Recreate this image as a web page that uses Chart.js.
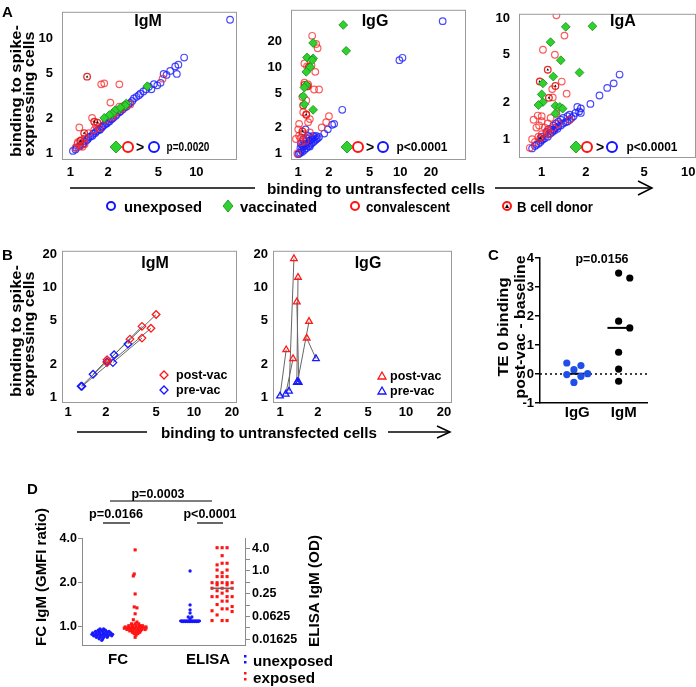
<!DOCTYPE html>
<html>
<head>
<meta charset="utf-8">
<script src="https://cdn.jsdelivr.net/npm/chart.js@4.4.1/dist/chart.umd.min.js"></script>
<style>
  body { margin: 0; background: #fff; }
  #page { position: relative; width: 696px; height: 687px; overflow: hidden; background: #fff;
          font-family: "Liberation Sans", Arial, Helvetica, sans-serif; }
  .box { position: absolute; }
  #over { position: absolute; left: 0; top: 0; pointer-events: none; }
  #over text { font-family: "Liberation Sans", Arial, Helvetica, sans-serif; font-weight: bold; fill: #000; }
</style>
</head>
<body>
<div id="page">
  <div class="box" style="left:30px;top:-5px;width:219px;height:187px"><canvas id="a1"></canvas></div>
  <div class="box" style="left:262px;top:-7px;width:216px;height:189px"><canvas id="a2"></canvas></div>
  <div class="box" style="left:488px;top:-3px;width:220px;height:185px"><canvas id="a3"></canvas></div>
  <div class="box" style="left:30px;top:238px;width:219px;height:190px"><canvas id="b1"></canvas></div>
  <div class="box" style="left:245px;top:238px;width:219px;height:190px"><canvas id="b2"></canvas></div>
  <div class="box" style="left:488px;top:248px;width:171px;height:182px"><canvas id="c1"></canvas></div>
  <div class="box" style="left:30px;top:528px;width:300px;height:147px"><canvas id="d1"></canvas></div>

  <svg id="over" width="696" height="687">
    <!-- panel A -->
    <text x="2" y="11" font-size="15" dominant-baseline="central">A</text>
    <text x="148" y="20" font-size="16" text-anchor="middle" dominant-baseline="central">IgM</text>
    <text x="375" y="20" font-size="16" text-anchor="middle" dominant-baseline="central">IgG</text>
    <text x="623" y="20" font-size="16" text-anchor="middle" dominant-baseline="central">IgA</text>
    <text transform="translate(15,91) rotate(-90)" font-size="15" text-anchor="middle" dominant-baseline="central" textLength="132" lengthAdjust="spacingAndGlyphs">binding to spike-</text>
    <text transform="translate(28,94) rotate(-90)" font-size="15" text-anchor="middle" dominant-baseline="central" textLength="125" lengthAdjust="spacingAndGlyphs">expressing cells</text>

    <g stroke="#000" stroke-width="1.5" fill="none">
      <line x1="70" y1="188" x2="255" y2="188"/>
      <line x1="495" y1="188" x2="652" y2="188"/>
      <polyline points="638,181 652,188 638,195"/>
    </g>
    <text x="376" y="188" font-size="15" text-anchor="middle" dominant-baseline="central" textLength="218" lengthAdjust="spacingAndGlyphs">binding to untransfected cells</text>

    <circle cx="111" cy="206" r="4" fill="none" stroke="#1414ff" stroke-width="2"/>
    <text x="124" y="206" font-size="15" dominant-baseline="central" textLength="78" lengthAdjust="spacingAndGlyphs">unexposed</text>
    <polygon points="228,200 233,206 228,212 223,206" fill="#2fd12f" stroke="#178c17" stroke-width="0.8"/>
    <text x="240" y="206" font-size="15" dominant-baseline="central" textLength="77" lengthAdjust="spacingAndGlyphs">vaccinated</text>
    <circle cx="355" cy="206" r="4" fill="none" stroke="#ff1414" stroke-width="2"/>
    <text x="366" y="206" font-size="15" dominant-baseline="central" textLength="84" lengthAdjust="spacingAndGlyphs">convalescent</text>
    <circle cx="507" cy="206" r="4" fill="none" stroke="#ff1414" stroke-width="2"/>
    <polygon points="507,204 509,208 505,208" fill="#000"/>
    <text x="517" y="206" font-size="15" dominant-baseline="central" textLength="76" lengthAdjust="spacingAndGlyphs">B cell donor</text>

    <!-- inner comparison keys -->
    <g id="key1">
      <polygon points="116,141 122,147 116,153 110,147" fill="#2fd12f" stroke="#178c17" stroke-width="0.8"/>
      <circle cx="128" cy="147" r="5" fill="none" stroke="#ff1414" stroke-width="2"/>
      <text x="140" y="147" font-size="14" text-anchor="middle" dominant-baseline="central">&gt;</text>
      <circle cx="154" cy="147" r="5" fill="none" stroke="#1414ff" stroke-width="2"/>
      <text x="188" y="147" font-size="12.5" text-anchor="middle" dominant-baseline="central" textLength="43" lengthAdjust="spacingAndGlyphs">p=0.0020</text>
    </g>
    <g>
      <polygon points="347,141 353,147 347,153 341,147" fill="#2fd12f" stroke="#178c17" stroke-width="0.8"/>
      <circle cx="358" cy="147" r="5" fill="none" stroke="#ff1414" stroke-width="2"/>
      <text x="370" y="147" font-size="14" text-anchor="middle" dominant-baseline="central">&gt;</text>
      <circle cx="383" cy="147" r="5" fill="none" stroke="#1414ff" stroke-width="2"/>
      <text x="422" y="147" font-size="12.5" text-anchor="middle" dominant-baseline="central" textLength="51" lengthAdjust="spacingAndGlyphs">p&lt;0.0001</text>
    </g>
    <g>
      <polygon points="576,141 582,147 576,153 570,147" fill="#2fd12f" stroke="#178c17" stroke-width="0.8"/>
      <circle cx="587" cy="147" r="5" fill="none" stroke="#ff1414" stroke-width="2"/>
      <text x="600" y="147" font-size="14" text-anchor="middle" dominant-baseline="central">&gt;</text>
      <circle cx="612" cy="147" r="5" fill="none" stroke="#1414ff" stroke-width="2"/>
      <text x="652" y="147" font-size="12.5" text-anchor="middle" dominant-baseline="central" textLength="51" lengthAdjust="spacingAndGlyphs">p&lt;0.0001</text>
    </g>

    <!-- panel B -->
    <text x="2" y="254" font-size="15" dominant-baseline="central">B</text>
    <text x="155" y="262" font-size="16" text-anchor="middle" dominant-baseline="central">IgM</text>
    <text x="368" y="262" font-size="16" text-anchor="middle" dominant-baseline="central">IgG</text>
    <text transform="translate(15,331) rotate(-90)" font-size="15" text-anchor="middle" dominant-baseline="central" textLength="132" lengthAdjust="spacingAndGlyphs">binding to spike-</text>
    <text transform="translate(28,334) rotate(-90)" font-size="15" text-anchor="middle" dominant-baseline="central" textLength="125" lengthAdjust="spacingAndGlyphs">expressing cells</text>
    <g stroke="#000" stroke-width="1.5" fill="none">
      <line x1="77" y1="432" x2="147" y2="432"/>
      <line x1="388" y1="432" x2="450" y2="432"/>
      <polyline points="437,426 450,432 437,438"/>
    </g>
    <text x="269" y="432" font-size="15" text-anchor="middle" dominant-baseline="central" textLength="216" lengthAdjust="spacingAndGlyphs">binding to untransfected cells</text>

    <polygon points="164,371 168,375 164,379 160,375" fill="none" stroke="#ff1414" stroke-width="1.3"/>
    <text x="176" y="375" font-size="12.5" dominant-baseline="central">post-vac</text>
    <polygon points="164,386 168,390 164,394 160,390" fill="none" stroke="#1414ff" stroke-width="1.3"/>
    <text x="176" y="390" font-size="12.5" dominant-baseline="central">pre-vac</text>
    <polygon points="382,372 386,379 378,379" fill="none" stroke="#ff1414" stroke-width="1.3"/>
    <text x="390" y="376" font-size="12.5" dominant-baseline="central">post-vac</text>
    <polygon points="382,387 386,394 378,394" fill="none" stroke="#1414ff" stroke-width="1.3"/>
    <text x="390" y="391" font-size="12.5" dominant-baseline="central">pre-vac</text>

    <!-- panel C -->
    <text x="488" y="254" font-size="15" dominant-baseline="central">C</text>
    <text x="602" y="258" font-size="13" text-anchor="middle" dominant-baseline="central" textLength="53" lengthAdjust="spacingAndGlyphs">p=0.0156</text>
    <text transform="translate(502,327) rotate(-90)" font-size="15" text-anchor="middle" dominant-baseline="central" textLength="99" lengthAdjust="spacingAndGlyphs">TE 0 binding</text>
    <text transform="translate(519,327) rotate(-90)" font-size="15" text-anchor="middle" dominant-baseline="central" textLength="143" lengthAdjust="spacingAndGlyphs">post-vac - baseline</text>

    <!-- panel D -->
    <text x="27" y="488" font-size="15" dominant-baseline="central">D</text>
    <text x="158" y="493" font-size="13" text-anchor="middle" dominant-baseline="central" textLength="53" lengthAdjust="spacingAndGlyphs">p=0.0003</text>
    <line x1="110" y1="501" x2="212" y2="501" stroke="#000" stroke-width="1.2"/>
    <text x="116" y="513" font-size="13" text-anchor="middle" dominant-baseline="central" textLength="54" lengthAdjust="spacingAndGlyphs">p=0.0166</text>
    <line x1="103" y1="523" x2="130" y2="523" stroke="#000" stroke-width="1.2"/>
    <text x="210" y="513" font-size="13" text-anchor="middle" dominant-baseline="central" textLength="53" lengthAdjust="spacingAndGlyphs">p&lt;0.0001</text>
    <line x1="197" y1="523" x2="223" y2="523" stroke="#000" stroke-width="1.2"/>
    <text transform="translate(40,577) rotate(-90)" font-size="15" text-anchor="middle" dominant-baseline="central" textLength="138" lengthAdjust="spacingAndGlyphs">FC IgM (GMFI ratio)</text>
    <text transform="translate(313,591) rotate(-90)" font-size="15" text-anchor="middle" dominant-baseline="central" textLength="112" lengthAdjust="spacingAndGlyphs">ELISA IgM (OD)</text>
    <rect x="244" y="655" width="2.5" height="2.5" fill="#1414ff"/>
    <rect x="244" y="661" width="2.5" height="2.5" fill="#1414ff"/>
    <text x="253" y="660" font-size="15" dominant-baseline="central" textLength="80" lengthAdjust="spacingAndGlyphs">unexposed</text>
    <rect x="244" y="672" width="2.5" height="2.5" fill="#ff1414"/>
    <rect x="244" y="678" width="2.5" height="2.5" fill="#ff1414"/>
    <text x="253" y="677" font-size="15" dominant-baseline="central" textLength="62" lengthAdjust="spacingAndGlyphs">exposed</text>
  </svg>
</div>

<script>
// ---------- Panel A: [binding to untransfected, binding to spike] ----------
const aIgM_unexposed = [
  [1.05,1.05],[1.1,1.08],[1.12,1.12],[1.18,1.15],[1.2,1.17],[1.25,1.2],[1.28,1.22],[1.3,1.27],[1.35,1.3],
  [1.38,1.33],[1.4,1.38],[1.45,1.4],[1.5,1.42],[1.52,1.48],[1.58,1.5],[1.6,1.55],[1.65,1.58],[1.7,1.62],
  [1.72,1.6],[1.78,1.68],[1.8,1.72],[1.85,1.75],[1.9,1.8],[1.95,1.82],[2.0,1.88],[2.05,1.9],[2.1,1.98],
  [2.15,2.0],[2.2,2.05],[2.3,2.12],[2.35,2.2],[2.45,2.28],[2.5,2.32],[2.6,2.4],[2.7,2.5],[2.8,2.55],
  [2.9,2.68],[3.0,2.75],[3.1,2.85],[3.2,3.0],[3.35,3.1],[3.5,3.2],[3.6,3.3],[3.8,3.45],[4.0,3.6],
  [4.2,3.8],[4.4,3.6],[4.6,4.0],[4.9,3.9],[5.2,4.1],[5.5,4.9],[5.8,4.8],[6.2,5.2],[7.0,4.9],[6.8,5.7],
  [7.2,5.9],[8.0,6.8],[18.5,14.5]
];
const aIgM_vaccinated = [[4.08,3.83],[2.78,2.71],[2.73,2.6],[2.45,2.42],[2.27,2.37],[2.15,2.2],[2.04,2.15],[1.86,2.03],[2.5,2.5]];
const aIgM_convalescent = [
  [1.76,3.98],[1.86,4.06],[2.45,3.98],[2.08,2.76],[1.49,2.03],[1.18,1.68],[1.14,1.21],[1.25,1.14],[1.1,1.12],
  [1.2,1.15],[1.22,1.3],[1.3,1.35],[1.4,1.5],[1.55,1.6],[1.6,1.75],[1.7,1.65],[1.9,1.96],[2.15,2.07],
  [2.3,2.25],[2.5,2.4],[2.6,2.5],[2.99,2.66],[2.8,2.6],[2.7,2.62],[5.4,4.46],[1.15,1.25],[1.3,1.2],
  [2.2,2.2],[2.45,2.55]
];
const aIgM_donor = [[1.36,4.64],[1.55,1.88],[1.64,1.85],[1.29,1.5],[1.2,1.28]];

const aIgG_unexposed = [
  [2.7,3.2],[2.25,2.2],[2.15,2.15],[1.95,1.9],[1.8,1.7],[1.6,1.55],[1.55,1.5],[1.5,1.45],[1.45,1.4],
  [1.4,1.35],[1.35,1.3],[1.3,1.25],[1.25,1.2],[1.2,1.15],[1.15,1.1],[1.1,1.05],[1.05,1.02],[1.02,1.0],
  [1.0,0.98],[1.08,1.1],[1.12,1.2],[1.18,1.25],[1.22,1.3],[1.28,1.4],[1.3,1.55],[1.35,1.45],[1.4,1.6],
  [1.15,1.3],[1.1,1.25],[1.05,1.15],[1.2,1.5],[1.25,1.6],[1.5,1.6],[1.45,1.55],[1.2,1.4],[1.18,1.9],
  [1.06,1.3],[1.12,1.45],[1.3,1.2],[1.38,1.5],[9.8,12],[10.5,12.8],[26,34]
];
const aIgG_vaccinated = [
  [2.76,30.7],[2.95,15.4],[1.4,19],[1.22,12.9],[1.4,12.6],[1.37,12],[1.31,10],[1.2,8.8],[1.2,6.2],
  [1.15,5.8],[1.12,4.6],[1.15,3.7],[1.4,3.2]
];
const aIgG_convalescent = [
  [1.37,23],[1.5,18.5],[1.15,11],[1.47,8.8],[1.22,10.2],[1.15,6.6],[1.25,6.3],[1.43,5.5],[1.6,5.5],
  [1.1,4.5],[1.2,4.1],[1.12,3.0],[1.2,2.86],[1.25,2.3],[1.02,2.2],[1.0,1.9],[1.02,1.6],[2.0,2.7],
  [1.88,2.3],[1.7,2.0],[0.95,1.47],[1.05,1.5],[1.1,1.7],[0.98,1.0],[1.3,2.5],[1.08,1.35],[1.18,1.4],
  [1.3,1.75],[1.25,6.0],[1.35,10.5],[1.55,16.5]
];
const aIgG_donor = [[1.15,6.2],[1.27,10],[1.12,3.6],[1.2,2.8],[1.1,1.8],[1.22,6.0]];

const aIgA_unexposed = [
  [3.4,3.43],[3.1,2.9],[2.8,2.66],[2.48,2.3],[2.15,1.96],[1.85,1.8],[1.75,1.85],[1.8,1.7],[1.7,1.65],
  [1.85,1.65],[1.65,1.55],[1.6,1.5],[1.55,1.45],[1.5,1.4],[1.45,1.38],[1.4,1.35],[1.35,1.3],[1.3,1.28],
  [1.28,1.22],[1.25,1.25],[1.2,1.2],[1.18,1.15],[1.15,1.12],[1.12,1.1],[1.1,1.05],[1.05,1.02],[1.02,1.0],
  [1.0,0.98],[0.98,0.95],[0.95,0.92],[0.92,0.9],[0.9,0.88],[0.86,0.84],[1.08,1.15],[1.15,1.2],[1.2,1.3],
  [1.25,1.35],[1.3,1.4],[1.35,1.45],[1.4,1.5],[1.12,1.22],[1.5,1.55],[1.55,1.6],[1.0,1.05],[1.22,1.18]
];
const aIgA_vaccinated = [
  [1.46,8.5],[2.22,8.6],[1.15,6.35],[1.35,4.5],[1.81,3.56],[1.2,3.3],[1.02,2.9],[1.0,2.35],[1.02,2.03],
  [0.95,1.92],[1.24,1.89],[1.33,1.85],[1.39,1.79],[1.24,1.63]
];
const aIgA_convalescent = [
  [1.26,10.6],[1.43,7.2],[1.23,5.0],[1.02,5.5],[1.19,2.22],[1.48,2.38],[1.37,3.0],[0.94,1.57],[1.0,1.41],
  [1.26,1.63],[0.86,1.0],[0.83,0.85],[0.9,0.95],[0.96,1.3],[1.05,1.25],[1.1,1.35],[1.15,1.5],[1.0,1.1],
  [1.08,1.15],[0.92,1.25],[1.12,1.1],[1.2,1.25],[1.55,1.45],[0.88,1.45],[1.0,1.55],[1.1,1.2],[0.95,1.05],
  [1.3,1.35],[1.18,2.6]
];
const aIgA_donor = [[1.1,3.76],[0.97,3.0],[1.24,2.76],[1.12,2.2],[0.98,1.02]];

const aTicksIgM = [1, 2, 5, 10];
const aTicksIgG = [1, 2, 5, 10, 20];
const aTicksIgA = [1, 2, 5, 10];

// ---------- Panel B: paired pre / post vaccination ----------
const bIgM_pre  = [[1.27,1.25],[1.29,1.25],[1.58,1.61],[2.32,2.43],[2.27,2.06],[2.99,3.05],[2.04,2.1]];
const bIgM_post = [[5.0,5.67],[4.55,4.24],[2.04,2.19],[3.86,4.42],[3.86,3.45],[3.1,3.38],[2.04,2.06]];
const bIgG_pre  = [[1.0,1.02],[1.11,1.06],[1.18,1.13],[1.36,1.36],[1.41,1.36],[1.38,1.38],[1.93,2.24]];
const bIgG_post = [[1.12,2.7],[1.27,2.24],[1.29,18.4],[1.39,12.4],[1.36,7.4],[1.7,4.9],[1.63,3.45]];
const bTicks = [1, 2, 5, 10, 20];

// ---------- Panel C: TE 0 binding, post-vac minus baseline ----------
const cCategories = ['IgG', 'IgM'];
const cIgG = [[0.776,0.38],[1.08,0.29],[0.929,0.15],[0.776,-0.02],[1.224,0.01],[1.08,-0.08],[0.929,-0.29]];
const cIgM = [[1.89,3.48],[2.13,3.31],[1.89,1.82],[2.13,1.59],[1.89,0.75],[1.89,0.17],[1.89,-0.25]];

// ---------- Panel D: FC (left axis) and ELISA (right axis) ----------
const dCategories = ['FC', 'ELISA'];
const dFC_unexposed = [
  [0.80,0.97],[0.84,0.97],[0.78,0.95],[0.82,0.95],[0.86,0.95],
  [0.75,0.93],[0.79,0.93],[0.83,0.93],[0.87,0.93],[0.90,0.93],
  [0.72,0.91],[0.76,0.91],[0.80,0.91],[0.84,0.91],[0.88,0.91],[0.92,0.91],
  [0.71,0.89],[0.75,0.89],[0.79,0.89],[0.83,0.89],[0.87,0.89],[0.91,0.89],[0.94,0.89],
  [0.73,0.87],[0.77,0.87],[0.81,0.87],[0.85,0.87],[0.89,0.87],[0.93,0.87],
  [0.76,0.85],[0.80,0.85],[0.84,0.85],[0.88,0.85],[0.79,0.83],[0.83,0.83],[0.82,0.81]
];
const dFC_exposed = [
  [1.19,3.36],[1.18,2.3],[1.17,2.23],[1.19,1.68],[1.18,1.37],[1.21,1.35],[1.19,1.23],[1.17,1.12],
  [1.21,1.08],[1.19,0.85],[1.2,0.88],
  [1.15,1.05],[1.19,1.05],[1.23,1.05],
  [1.12,1.02],[1.16,1.02],[1.2,1.02],[1.24,1.02],[1.27,1.02],
  [1.08,1.0],[1.12,1.0],[1.16,1.0],[1.2,1.0],[1.24,1.0],[1.28,1.0],[1.31,1.0],
  [1.07,0.98],[1.11,0.98],[1.15,0.98],[1.19,0.98],[1.23,0.98],[1.27,0.98],[1.31,0.98],
  [1.1,0.96],[1.14,0.96],[1.18,0.96],[1.22,0.96],[1.26,0.96],[1.3,0.96],
  [1.13,0.94],[1.17,0.94],[1.21,0.94],[1.25,0.94],[1.16,0.92],[1.2,0.92],[1.24,0.92],[1.18,0.9],[1.22,0.9]
];
const dELISA_unexposed = [
  [1.8,1.0],[1.8,0.127],[1.8,0.094],[1.8,0.078],[1.78,0.061],[1.82,0.061],[1.8,0.055],
  [1.7,0.048],[1.72,0.048],[1.74,0.048],[1.76,0.048],[1.78,0.048],[1.8,0.048],[1.82,0.048],
  [1.84,0.048],[1.86,0.048],[1.88,0.048],[1.9,0.048],
  [1.71,0.046],[1.73,0.046],[1.75,0.046],[1.77,0.046],[1.79,0.046],[1.81,0.046],[1.83,0.046],
  [1.85,0.046],[1.87,0.046],[1.89,0.046]
];
const dELISA_exposed = [
  [2.1,4.12],[2.156,4.12],[2.211,4.12],[2.156,2.54],[2.156,1.6],[2.211,1.6],[2.1,1.45],
  [2.1,1.06],[2.211,1.06],[2.156,0.9],[2.1,0.71],[2.156,0.71],[2.211,0.71],
  [2.044,0.49],[2.1,0.49],[2.156,0.49],[2.211,0.49],[2.267,0.49],[2.1,0.43],[2.211,0.43],
  [2.044,0.35],[2.156,0.35],[2.267,0.35],[2.1,0.3],[2.211,0.3],[2.156,0.26],
  [2.044,0.21],[2.1,0.21],[2.211,0.21],[2.267,0.21],[2.156,0.16],[2.211,0.16],[2.1,0.13],
  [2.267,0.115],[2.156,0.10],[2.211,0.10],[2.044,0.089],[2.267,0.085],[2.1,0.069],
  [2.044,0.049],[2.156,0.049],[2.211,0.049]
];
const dTicksLeft = [1, 2, 4];
const dTicksRight = [0.015625, 0.03125, 0.0625, 0.125, 0.25, 0.5, 1, 2, 4];
const dRightLabels = {4: '4.0', 1: '1.0', 0.25: '0.25', 0.0625: '0.0625', 0.015625: '0.01625'};

// ---------- helpers ----------
const FONT = '"Liberation Sans", Arial, Helvetica, sans-serif';
Chart.defaults.font.family = FONT;
Chart.defaults.color = '#000';

const BLUE = 'rgba(30,30,250,0.8)';
const RED = 'rgba(250,40,40,0.75)';

const pts = arr => arr.map(([x, y]) => ({x, y}));
const median = arr => {
  const s = arr.map(p => p[1]).sort((a, b) => a - b);
  const m = Math.floor(s.length / 2);
  return s.length % 2 ? s[m] : (s[m - 1] + s[m]) / 2;
};

// grey frame round the plotting area (panels A and B)
const boxPlugin = {
  id: 'box',
  afterDraw(chart, args, opts) {
    if (!opts.color) return;
    const {ctx, chartArea: a} = chart;
    ctx.save();
    ctx.strokeStyle = opts.color;
    ctx.lineWidth = 1;
    ctx.strokeRect(a.left + 0.5, a.top + 0.5, a.width - 1, a.height - 1);
    ctx.restore();
  }
};

function logAxis(o) {
  return {
    type: 'logarithmic', position: o.position, min: o.min, max: o.max,
    grid: {display: false, drawTicks: false},
    border: {display: false},
    ticks: {color: '#000', font: {size: 13, weight: 'bold'}, padding: o.pad,
            autoSkip: false, maxRotation: 0, callback: v => String(v)},
    afterBuildTicks: ax => { ax.ticks = o.ticks.map(v => ({value: v})); },
    afterFit: ax => { if (o.h !== undefined) ax.height = o.h; else ax.width = o.w; }
  };
}

function options(scales, box, padRight) {
  return {
    responsive: true, maintainAspectRatio: false, animation: false, devicePixelRatio: 1,
    layout: {padding: {top: 10, right: padRight, left: 0, bottom: 0}},
    plugins: {legend: {display: false}, tooltip: {enabled: false}, box: {color: box}},
    scales
  };
}

function aSets(unexp, vacc, conv, donor) {
  return [
    {data: pts(vacc), pointStyle: 'rectRot', pointRadius: 4.4, pointBackgroundColor: '#2fd12f',
     pointBorderColor: '#178c17', pointBorderWidth: 0.8},
    {data: pts(donor), pointStyle: 'triangle', pointRadius: 1.5, pointBackgroundColor: '#000',
     pointBorderColor: '#000', pointBorderWidth: 0},
    {data: pts(donor), pointStyle: 'circle', pointRadius: 3.3, pointBackgroundColor: 'rgba(0,0,0,0)',
     pointBorderColor: 'rgba(230,20,20,0.9)', pointBorderWidth: 1.3},
    {data: pts(conv), pointStyle: 'circle', pointRadius: 3.3, pointBackgroundColor: 'rgba(0,0,0,0)',
     pointBorderColor: RED, pointBorderWidth: 1.2},
    {data: pts(unexp), pointStyle: 'circle', pointRadius: 3.3, pointBackgroundColor: 'rgba(0,0,0,0)',
     pointBorderColor: BLUE, pointBorderWidth: 1.2}
  ];
}

function panelA(id, sets, xr, yr, yw, xh, xpad) {
  new Chart(document.getElementById(id), {
    type: 'scatter',
    data: {datasets: sets},
    options: options({
      x: logAxis({position: 'bottom', min: xr[0], max: xr[1], ticks: xr[2], pad: xpad, h: xh}),
      y: logAxis({position: 'left', min: yr[0], max: yr[1], ticks: yr[2], pad: 9, w: yw})
    }, '#9a9a9a', 12),
    plugins: [boxPlugin]
  });
}

panelA('a1', aSets(aIgM_unexposed, aIgM_vaccinated, aIgM_convalescent, aIgM_donor),
       [0.86, 21, aTicksIgM], [0.875, 17, aTicksIgM], 32, 22, 5);
panelA('a2', aSets(aIgG_unexposed, aIgG_vaccinated, aIgG_convalescent, aIgG_donor),
       [0.85, 44, aTicksIgG], [0.84, 46, aTicksIgG], 29, 22, 5);
panelA('a3', aSets(aIgA_unexposed, aIgA_vaccinated, aIgA_convalescent, aIgA_donor),
       [0.71, 11.3, aTicksIgA], [0.71, 10.9, aTicksIgA], 31, 24, 7);

function pairLines(pre, post) {
  return pre.map((p, i) => ({
    data: pts([p, post[i]]), showLine: true, borderColor: '#666', borderWidth: 1, pointRadius: 0
  }));
}

function panelB(id, pre, post, style, xr, yw) {
  const sets = [
    {data: pts(post), pointStyle: style, pointRadius: 3.8, pointBackgroundColor: 'rgba(0,0,0,0)',
     pointBorderColor: '#ff1a1a', pointBorderWidth: 1.3},
    {data: pts(pre), pointStyle: style, pointRadius: 3.8, pointBackgroundColor: 'rgba(0,0,0,0)',
     pointBorderColor: '#1a1aff', pointBorderWidth: 1.3}
  ].concat(pairLines(pre, post));
  new Chart(document.getElementById(id), {
    type: 'scatter',
    data: {datasets: sets},
    options: options({
      x: logAxis({position: 'bottom', min: xr[0], max: xr[1], ticks: bTicks, pad: 2, h: 25}),
      y: logAxis({position: 'left', min: 0.88, max: 21.7, ticks: bTicks, pad: 5, w: yw})
    }, '#9a9a9a', 12),
    plugins: [boxPlugin]
  });
}

panelB('b1', bIgM_pre, bIgM_post, 'rectRot', [0.896, 21.9], 32);
panelB('b2', bIgG_pre, bIgG_post, 'triangle', [0.88, 23.2], 28);

// ---------- Panel C ----------
const cMedG = median(cIgG), cMedM = median(cIgM);
new Chart(document.getElementById('c1'), {
  type: 'scatter',
  data: {datasets: [
    {data: pts(cIgG), pointRadius: 3.6, pointBackgroundColor: '#1f4fe8', pointBorderColor: '#1f4fe8', pointBorderWidth: 0},
    {data: pts(cIgM), pointRadius: 3.6, pointBackgroundColor: '#000', pointBorderColor: '#000', pointBorderWidth: 0},
    {data: [{x: 0.85, y: cMedG}, {x: 1.15, y: cMedG}], showLine: true, borderColor: '#000', borderWidth: 2, pointRadius: 0},
    {data: [{x: 1.65, y: cMedM}, {x: 2.11, y: cMedM}], showLine: true, borderColor: '#000', borderWidth: 2, pointRadius: 0},
    {data: [{x: 0.2, y: 0}, {x: 2.5, y: 0}], showLine: true, borderColor: '#000', borderWidth: 1.5,
     borderDash: [2, 3], pointRadius: 0}
  ]},
  options: options({
    x: {type: 'linear', min: 0.2, max: 2.5,
        grid: {display: false, drawTicks: false}, border: {display: true, color: '#000', width: 1.5},
        ticks: {font: {size: 15, weight: 'bold'}, padding: 1, autoSkip: false, maxRotation: 0,
                callback: v => cCategories[v - 1]},
        afterBuildTicks: ax => { ax.ticks = [1, 2].map(v => ({value: v})); },
        afterFit: ax => { ax.height = 27; }},
    y: {type: 'linear', min: -1, max: 4,
        grid: {display: true, drawOnChartArea: false, drawTicks: true, tickLength: 5, color: '#000', lineWidth: 1.5},
        border: {display: true, color: '#000', width: 1.5},
        ticks: {font: {size: 13, weight: 'bold'}, padding: 1, stepSize: 1},
        afterFit: ax => { ax.width = 52; }}
  }, null, 12)
});

// ---------- Panel D ----------
const dMedEU = median(dELISA_unexposed), dMedEE = median(dELISA_exposed);
new Chart(document.getElementById('d1'), {
  type: 'scatter',
  data: {datasets: [
    {data: [{x: 2.03, y: dMedEE}, {x: 2.28, y: dMedEE}], yAxisID: 'y2', showLine: true,
     borderColor: '#666', borderWidth: 1.5, pointRadius: 0},
    {data: [{x: 1.68, y: dMedEU}, {x: 1.92, y: dMedEU}], yAxisID: 'y2', showLine: true,
     borderColor: '#1414ff', borderWidth: 2, pointRadius: 0},
    {data: pts(dFC_unexposed), yAxisID: 'y', pointRadius: 1.7, pointBackgroundColor: '#1a1aff', pointBorderWidth: 0},
    {data: pts(dFC_exposed), yAxisID: 'y', pointStyle: 'rect', pointRadius: 2.2, pointBackgroundColor: '#ff1414', pointBorderWidth: 0},
    {data: pts(dELISA_unexposed), yAxisID: 'y2', pointRadius: 1.7, pointBackgroundColor: '#1a1aff', pointBorderWidth: 0},
    {data: pts(dELISA_exposed), yAxisID: 'y2', pointStyle: 'rect', pointRadius: 2.2, pointBackgroundColor: '#ff1414', pointBorderWidth: 0}
  ]},
  options: options({
    x: {type: 'linear', min: 0.6, max: 2.41,
        grid: {display: false, drawTicks: false}, border: {display: true, color: '#8a8a8a'},
        ticks: {font: {size: 15, weight: 'bold'}, padding: 6, autoSkip: false, maxRotation: 0,
                callback: v => dCategories[v - 1]},
        afterBuildTicks: ax => { ax.ticks = [1, 2].map(v => ({value: v})); },
        afterFit: ax => { ax.height = 30; }},
    y: {type: 'logarithmic', position: 'left', min: 0.753, max: 4.05,
        grid: {display: true, drawOnChartArea: false, drawTicks: true, tickLength: 4, color: '#8a8a8a'},
        border: {display: true, color: '#8a8a8a'},
        ticks: {font: {size: 12.5, weight: 'bold'}, padding: 1, autoSkip: false, callback: v => v.toFixed(1)},
        afterBuildTicks: ax => { ax.ticks = dTicksLeft.map(v => ({value: v})); },
        afterFit: ax => { ax.width = 52; }},
    y2: {type: 'logarithmic', position: 'right', min: 0.0111, max: 7.43,
         grid: {display: true, drawOnChartArea: false, drawTicks: true, tickLength: 5, color: '#8a8a8a'},
         border: {display: true, color: '#8a8a8a'},
         ticks: {font: {size: 12.5, weight: 'bold'}, padding: 2, autoSkip: false,
                 callback: v => dRightLabels[v] || ''},
         afterBuildTicks: ax => { ax.ticks = dTicksRight.map(v => ({value: v})); },
         afterFit: ax => { ax.width = 85; }}
  }, null, 0)
});
</script>
</body>
</html>
